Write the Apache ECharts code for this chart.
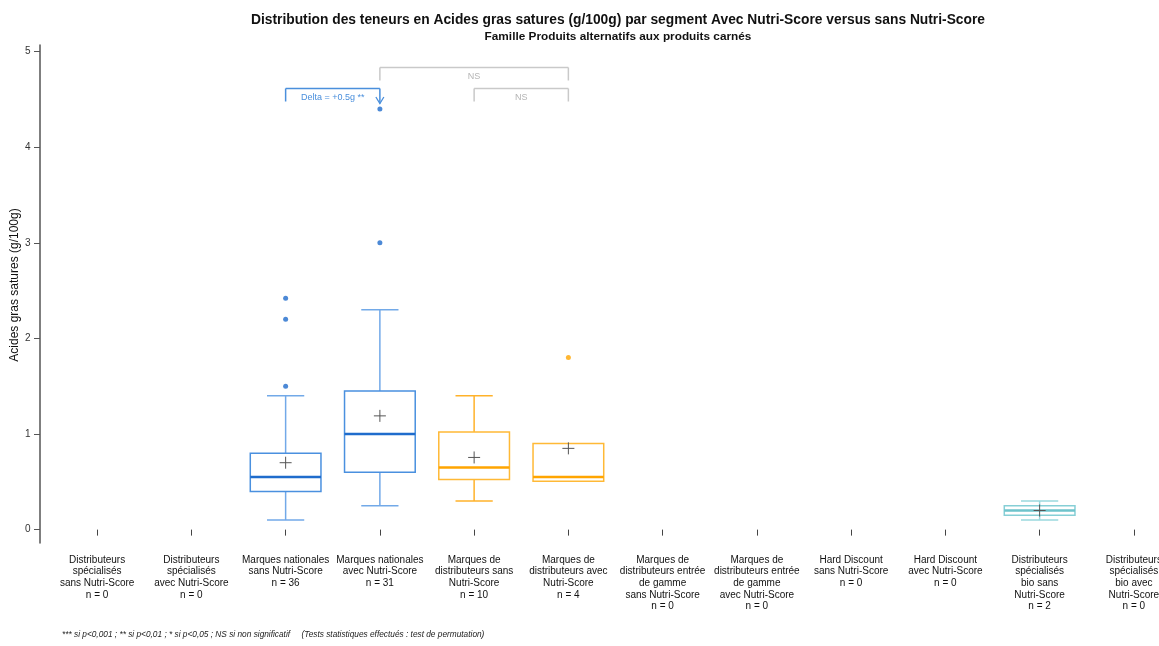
<!DOCTYPE html>
<html>
<head>
<meta charset="utf-8">
<script src="https://cdn.jsdelivr.net/npm/echarts@6/dist/echarts.min.js"></script>
<style>
html,body{margin:0;padding:0;background:#fff;}
#chart{width:1159px;height:646px;}
</style>
</head>
<body>
<div id="chart"></div>
<script>
// ---- Data ----
const categories = [
  "Distributeurs\nspécialisés\nsans Nutri-Score\nn = 0",
  "Distributeurs\nspécialisés\navec Nutri-Score\nn = 0",
  "Marques nationales\nsans Nutri-Score\nn = 36",
  "Marques nationales\navec Nutri-Score\nn = 31",
  "Marques de\ndistributeurs sans\nNutri-Score\nn = 10",
  "Marques de\ndistributeurs avec\nNutri-Score\nn = 4",
  "Marques de\ndistributeurs entrée\nde gamme\nsans Nutri-Score\nn = 0",
  "Marques de\ndistributeurs entrée\nde gamme\navec Nutri-Score\nn = 0",
  "Hard Discount\nsans Nutri-Score\nn = 0",
  "Hard Discount\navec Nutri-Score\nn = 0",
  "Distributeurs\nspécialisés\nbio sans\nNutri-Score\nn = 2",
  "Distributeurs\nspécialisés\nbio avec\nNutri-Score\nn = 0"
];
// [min whisker, Q1, median, Q3, max whisker]
const boxStats = [
  null,
  null,
  [0.10, 0.40, 0.55, 0.80, 1.40],
  [0.25, 0.60, 1.00, 1.45, 2.30],
  [0.30, 0.525, 0.65, 1.02, 1.40],
  [0.505, 0.505, 0.55, 0.90, 0.90],
  null,
  null,
  null,
  null,
  [0.10, 0.15, 0.20, 0.25, 0.30],
  null
];
const means = [null, null, 0.70, 1.19, 0.755, 0.85, null, null, null, null, 0.20, null];
const outlierCategory = [2, 2, 2, 3, 3, 5];
const outlierValues   = [1.50, 2.20, 2.42, 3.00, 4.40, 1.80];
const yTicks = [0, 1, 2, 3, 4, 5];
const yAxisTitle = 'Acides gras satures (g/100g)';
const brackets = [
  { from: 2, to: 3, label: "Delta = +0.5g **", kind: "sig" },
  { from: 3, to: 5, label: "NS", kind: "ns" },
  { from: 4, to: 5, label: "NS", kind: "ns" }
];

// ---- Styles ----
const groupOf = ["blue","blue","blue","blue","orange","orange","orange","orange","grey","grey","teal","teal"];
const palette = {
  blue:   { box: "#4a90df", median: "#1f6ccc", whisker: "#72a9e8", dot: "#1f6ccc" },
  orange: { box: "#ffb936", median: "#ffa500", whisker: "#ffb22a", dot: "#ffa500" },
  teal:   { box: "#86cfd6", median: "#6ec3cb", whisker: "#9ad8de", dot: "#6ec3cb" },
  grey:   { box: "#999", median: "#777", whisker: "#999", dot: "#777" }
};
const bracketPixelTop = [88.5, 67.5, 88.5]; // px
const bracketDrop = 13;

const boxData = [];
boxStats.forEach((s, i) => { if (s) boxData.push([i].concat(s)); });
const meanData = [];
means.forEach((m, i) => { if (m !== null) meanData.push([i, m]); });
const outlierData = outlierCategory.map((c, i) => ({
  value: [c, outlierValues[i]],
  itemStyle: { color: palette[groupOf[c]].dot }
}));

const chart = echarts.init(document.getElementById('chart'), null, { renderer: 'canvas' });

const option = {
  animation: false,
  backgroundColor: '#fff',
  textStyle: { fontFamily: 'Liberation Sans, Arial, sans-serif' },
  title: [
    {
      text: 'Distribution des teneurs en Acides gras satures (g/100g) par segment Avec Nutri-Score versus sans Nutri-Score',
      left: 613, top: 8, textAlign: 'center',
      textStyle: { fontSize: 13.8, fontWeight: 'bold', color: '#111', fontFamily: 'Liberation Sans, Arial, sans-serif' }
    },
    {
      text: 'Famille Produits alternatifs aux produits carnés',
      left: 613, top: 26, textAlign: 'center',
      textStyle: { fontSize: 11.8, fontWeight: 'bold', color: '#111', fontFamily: 'Liberation Sans, Arial, sans-serif' }
    }
  ],
  grid: { left: 50, right: -22, top: 45, bottom: 103, containLabel: false, outerBoundsMode: 'none' },
  xAxis: {
    type: 'category',
    data: categories,
    boundaryGap: true,
    offset: 2,
    axisLine: { show: false },
    axisTick: { show: true, alignWithLabel: true, length: 6, lineStyle: { color: '#444', width: 1 } },
    axisLabel: { interval: 0, color: '#111', fontSize: 10, lineHeight: 11.7, margin: 9, align: 'center', hideOverlap: false },
    splitLine: { show: false }
  },
  yAxis: {
    type: 'value',
    min: -0.14,
    max: 5.07,
    offset: 10,
    axisLine: { show: true, lineStyle: { color: '#555', width: 1.5 } },
    axisTick: { show: true, length: 6, customValues: yTicks, lineStyle: { color: '#555', width: 1 } },
    axisLabel: { customValues: yTicks, color: '#333', fontSize: 10, margin: 9.5 },
    splitLine: { show: false }
  },
  series: [
    {
      type: 'custom',
      name: 'boxes',
      data: boxData,
      encode: { x: 0, y: [1, 2, 3, 4, 5] },
      z: 2,
      renderItem: function (params, api) {
        const c = api.value(0);
        const g = palette[groupOf[c]];
        const band = api.size([1, 0])[0];
        const boxW = band * 0.75;
        const capW = band * 0.395;
        const pMin = api.coord([c, api.value(1)]);
        const pQ1 = api.coord([c, api.value(2)]);
        const pMed = api.coord([c, api.value(3)]);
        const pQ3 = api.coord([c, api.value(4)]);
        const pMax = api.coord([c, api.value(5)]);
        const x = pMed[0];
        const children = [];
        const wStyle = { stroke: g.whisker, lineWidth: 1.5 };
        if (pMax[1] < pQ3[1] - 0.5) {
          children.push({ type: 'line', shape: { x1: x, y1: pQ3[1], x2: x, y2: pMax[1] }, style: wStyle });
          children.push({ type: 'line', shape: { x1: x - capW / 2, y1: pMax[1], x2: x + capW / 2, y2: pMax[1] }, style: wStyle });
        }
        if (pMin[1] > pQ1[1] + 0.5) {
          children.push({ type: 'line', shape: { x1: x, y1: pQ1[1], x2: x, y2: pMin[1] }, style: wStyle });
          children.push({ type: 'line', shape: { x1: x - capW / 2, y1: pMin[1], x2: x + capW / 2, y2: pMin[1] }, style: wStyle });
        }
        children.push({
          type: 'rect',
          shape: { x: x - boxW / 2, y: pQ3[1], width: boxW, height: pQ1[1] - pQ3[1] },
          style: { fill: 'rgba(255,255,255,0)', stroke: g.box, lineWidth: 1.5 }
        });
        children.push({
          type: 'line',
          shape: { x1: x - boxW / 2, y1: pMed[1], x2: x + boxW / 2, y2: pMed[1] },
          style: { stroke: g.median, lineWidth: 2.5 }
        });
        return { type: 'group', children: children };
      }
    },
    {
      type: 'custom',
      name: 'means',
      data: meanData,
      encode: { x: 0, y: 1 },
      z: 3,
      renderItem: function (params, api) {
        const p = api.coord([api.value(0), api.value(1)]);
        const h = 6;
        const st = { stroke: '#555', lineWidth: 1 };
        return {
          type: 'group',
          children: [
            { type: 'line', shape: { x1: p[0] - h, y1: p[1], x2: p[0] + h, y2: p[1] }, style: st },
            { type: 'line', shape: { x1: p[0], y1: p[1] - h, x2: p[0], y2: p[1] + h }, style: st }
          ]
        };
      }
    },
    {
      type: 'scatter',
      name: 'outliers',
      data: outlierData,
      symbol: 'circle',
      symbolSize: 5,
      z: 4
    },
    {
      type: 'custom',
      name: 'brackets',
      data: brackets.map((b, i) => [b.from, b.to, i]),
      encode: { x: [0, 1] },
      z: 5,
      renderItem: function (params, api) {
        const i = api.value(2);
        const b = brackets[i];
        const top = bracketPixelTop[i];
        const x1 = api.coord([api.value(0), 0])[0];
        const x2 = api.coord([api.value(1), 0])[0];
        const isSig = b.kind === 'sig';
        const color = isSig ? '#4a8fdc' : '#c9c9c9';
        const textColor = isSig ? '#4a8fdc' : '#b4b4b4';
        const st = { stroke: color, lineWidth: 1.5 };
        const bottom = top + bracketDrop;
        const children = [
          { type: 'line', shape: { x1: x1, y1: top, x2: x2, y2: top }, style: st },
          { type: 'line', shape: { x1: x1, y1: top, x2: x1, y2: bottom }, style: st }
        ];
        if (isSig) {
          const tip = top + 15;
          children.push({ type: 'line', shape: { x1: x2, y1: top, x2: x2, y2: tip }, style: st });
          children.push({ type: 'polyline', shape: { points: [[x2 - 4, tip - 6.5], [x2, tip], [x2 + 4, tip - 6.5]] }, style: { stroke: color, lineWidth: 1.3, fill: null } });
        } else {
          children.push({ type: 'line', shape: { x1: x2, y1: top, x2: x2, y2: bottom }, style: st });
        }
        children.push({
          type: 'text',
          style: {
            x: (x1 + x2) / 2, y: top + 9.5,
            text: b.label, fill: textColor, fontSize: 9,
            fontFamily: 'Liberation Sans, Arial, sans-serif',
            align: 'center', verticalAlign: 'middle'
          }
        });
        return { type: 'group', children: children };
      }
    }
  ],
  graphic: [
    {
      type: 'text',
      x: 15,
      y: 285,
      rotation: Math.PI / 2,
      style: {
        text: yAxisTitle,
        fontSize: 12, fill: '#111',
        align: 'center', verticalAlign: 'middle',
        fontFamily: 'Liberation Sans, Arial, sans-serif'
      }
    },
    {
      type: 'text',
      left: 62,
      top: 631,
      style: {
        text: '*** si p<0,001 ; ** si p<0,01 ; * si p<0,05 ; NS si non significatif     (Tests statistiques effectués : test de permutation)',
        fontSize: 8.3, fontStyle: 'italic', fill: '#222',
        fontFamily: 'Liberation Sans, Arial, sans-serif'
      }
    }
  ]
};
chart.setOption(option);
</script>
</body>
</html>
